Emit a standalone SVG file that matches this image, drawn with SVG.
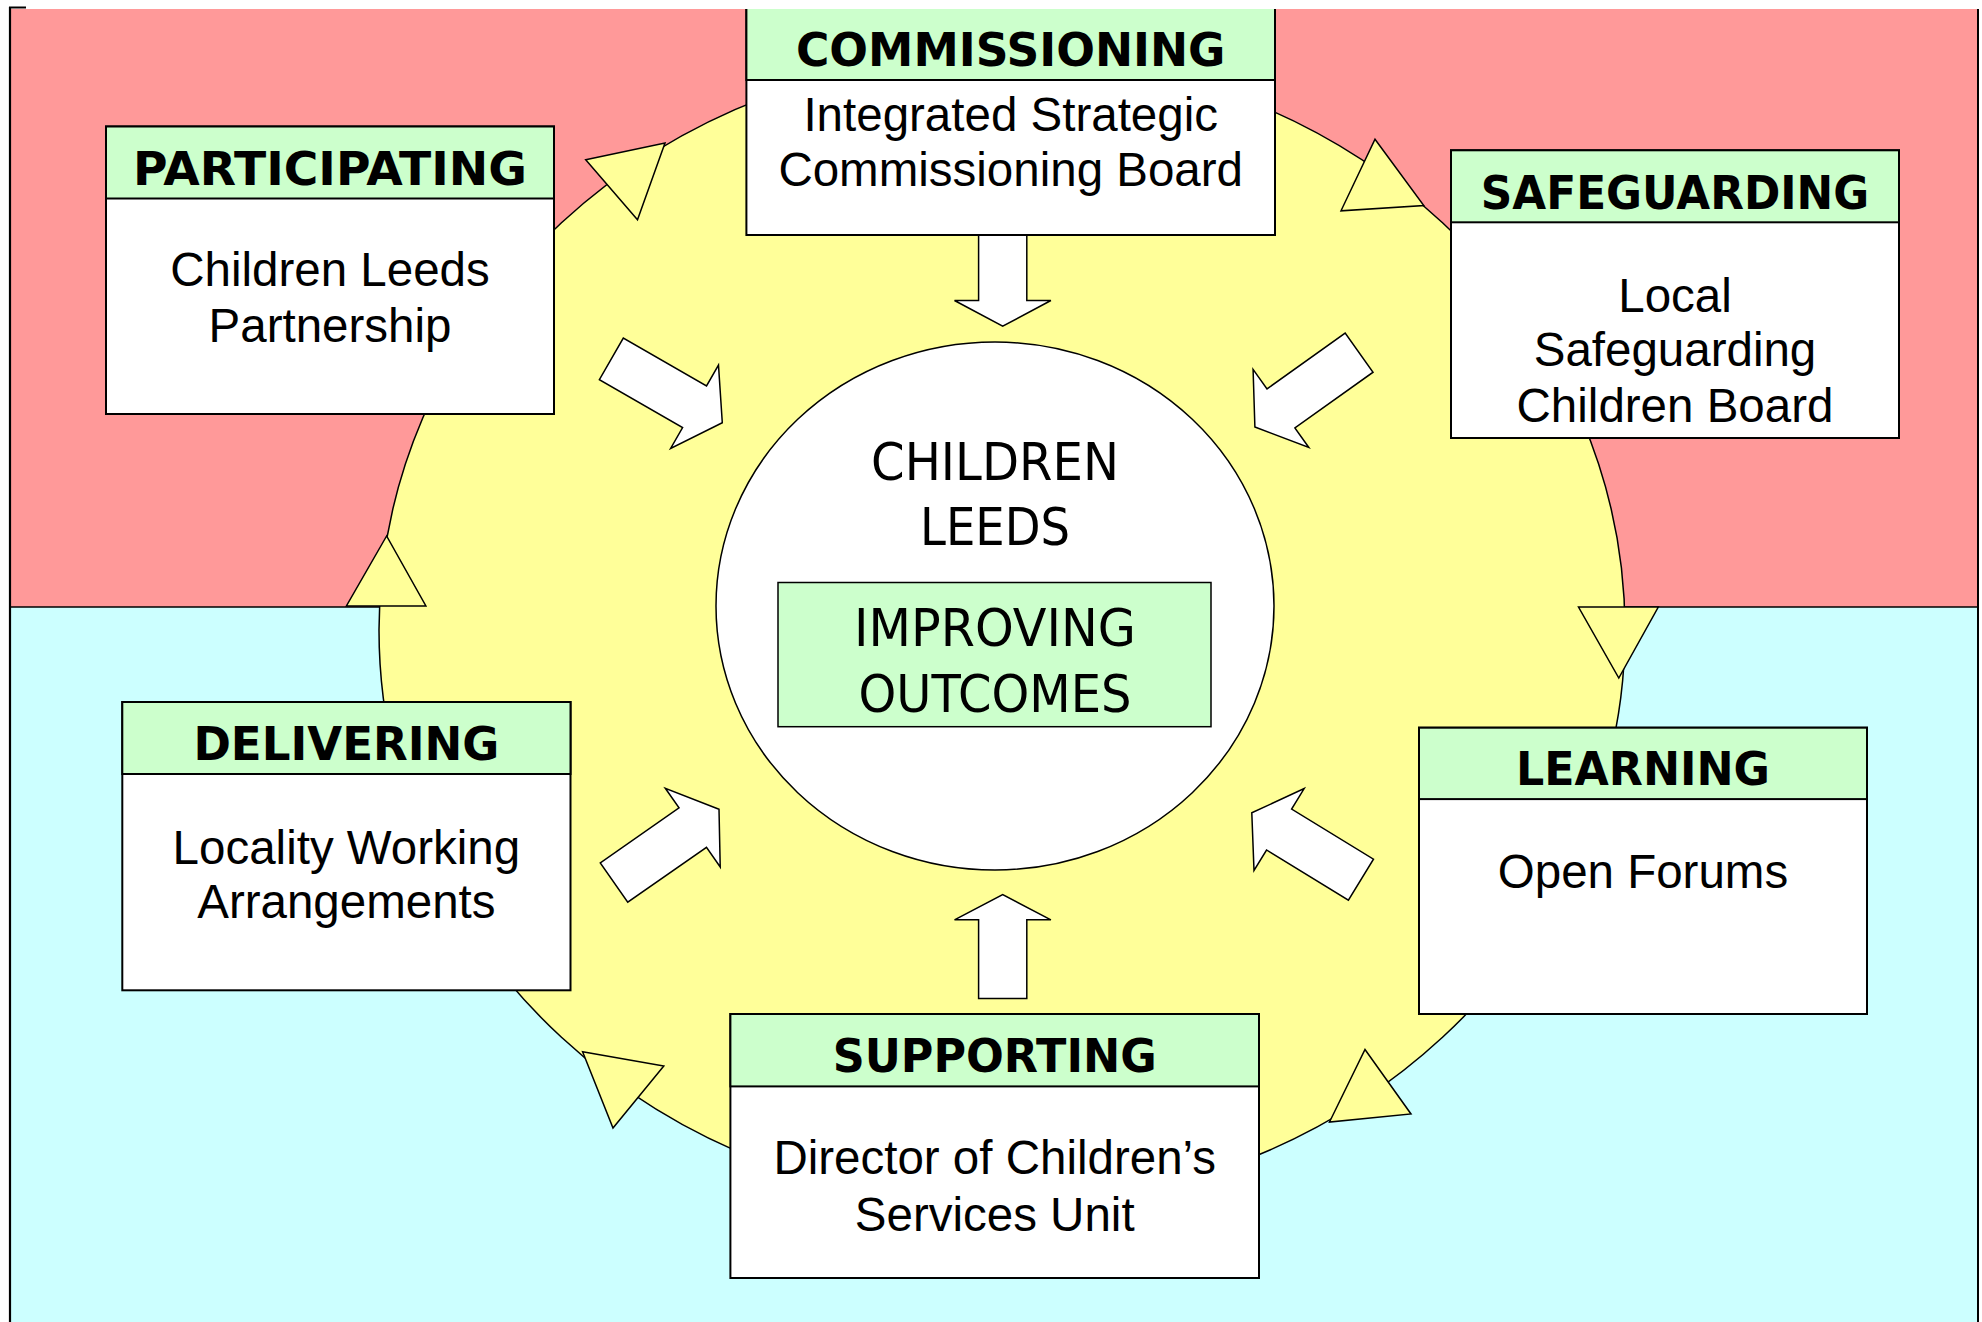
<svg xmlns="http://www.w3.org/2000/svg" width="1982" height="1322" viewBox="0 0 1982 1322">
<style>
.hdr{fill:#CCFFCC;stroke:#000;stroke-width:2}
.body{fill:#FFFFFF;stroke:#000;stroke-width:2}
.ht{font-family:"DejaVu Sans",Verdana,sans-serif;font-weight:bold;font-size:46px;text-anchor:middle;fill:#000}
.bt{font-family:"Liberation Sans",Arial,sans-serif;font-size:47.5px;text-anchor:middle;fill:#000}
.ct{font-family:"DejaVu Sans",Tahoma,sans-serif;font-size:51px;text-anchor:middle;fill:#000}
.tri{fill:#FFFF99;stroke:#000;stroke-width:1.5;stroke-linejoin:miter}
.arr{fill:#FFFFFF;stroke:#000;stroke-width:1.5;stroke-linejoin:miter}
</style>
<defs>
<clipPath id="frame"><rect x="0" y="9" width="1982" height="1313"/></clipPath>
<path id="darrow" d="M0,0 L-32,-48 L-32,-24 L-128,-24 L-128,24 L-32,24 L-32,48 Z"/>
</defs>
<rect x="0" y="0" width="1982" height="1322" fill="#FFFFFF"/>
<g id="background" clip-path="url(#frame)">
<rect x="10" y="9" width="1968" height="598" fill="#FF9999"/>
<rect x="10" y="607" width="1968" height="720" fill="#CCFFFF"/>
<line x1="10" y1="607" x2="1978" y2="607" stroke="#000" stroke-width="1.5"/>
<ellipse id="cycle" cx="1002" cy="630" rx="623" ry="576" fill="#FFFF99" stroke="#000" stroke-width="1.5"/>
</g>
<g id="frame-lines">
<line x1="10" y1="7" x2="10" y2="1322" stroke="#000" stroke-width="2.2"/>
<line x1="9" y1="7.5" x2="26" y2="7.5" stroke="#000" stroke-width="2"/>
<line x1="1978" y1="9" x2="1978" y2="1322" stroke="#000" stroke-width="2"/>
</g>
<g id="connectors">
<polygon class="tri" points="585.7,159.7 665,143 637.5,219.8"/>
<polygon class="tri" points="1375,139.2 1423.8,205.6 1341,210.8"/>
<polygon class="tri" points="1578.5,607 1658.3,607 1618.8,678"/>
<polygon class="tri" points="1365,1049.5 1411,1114 1329.5,1122"/>
<polygon class="tri" points="582.6,1051.8 663.8,1066 613,1128"/>
<polygon class="tri" points="386.6,536 346.4,606 425.9,606"/>
<path class="arr" d="M978.6,222.2 H1026.8 V300.5 H1050.9 L1002.7,326.2 L954.5,300.5 H978.6 Z"/>
<path class="arr" d="M978.6,998.4 H1026.8 V919.8 H1050.9 L1002.7,894.7 L954.5,919.8 H978.6 Z"/>
<use href="#darrow" class="arr" transform="translate(722.3,422.7) rotate(29.9)"/>
<use href="#darrow" class="arr" transform="translate(1254.9,427) rotate(144.5)"/>
<use href="#darrow" class="arr" transform="translate(719,809.3) rotate(-34.9)"/>
<use href="#darrow" class="arr" transform="translate(1251.8,812.8) rotate(-148.5)"/>
</g>
<g id="commissioning" clip-path="url(#frame)">
<rect class="body" x="746.4" y="5" width="528.6" height="230"/>
<rect class="hdr" x="746.4" y="5" width="528.6" height="75"/>
<text class="ht" x="1010.7" y="65.6" textLength="429.5" lengthAdjust="spacingAndGlyphs">COMMISSIONING</text>
<text class="bt" x="1010.7" y="130.5">Integrated Strategic</text>
<text class="bt" x="1010.7" y="185.8">Commissioning Board</text>
</g>
<g id="participating">
<rect class="body" x="106" y="126.5" width="448" height="287.5"/>
<rect class="hdr" x="106" y="126.5" width="448" height="72"/>
<text class="ht" x="330" y="185" textLength="394" lengthAdjust="spacingAndGlyphs">PARTICIPATING</text>
<text class="bt" x="330" y="286">Children Leeds</text>
<text class="bt" x="330" y="341.6">Partnership</text>
</g>
<g id="safeguarding">
<rect class="body" x="1451" y="150.3" width="448" height="287.7"/>
<rect class="hdr" x="1451" y="150.3" width="448" height="72"/>
<text class="ht" x="1675" y="208.8" textLength="388.5" lengthAdjust="spacingAndGlyphs">SAFEGUARDING</text>
<text class="bt" x="1675" y="311.6">Local</text>
<text class="bt" x="1675" y="365.8">Safeguarding</text>
<text class="bt" x="1675" y="422.3">Children Board</text>
</g>
<g id="delivering">
<rect class="body" x="122.3" y="702" width="448.2" height="288.3"/>
<rect class="hdr" x="122.3" y="702" width="448.2" height="72"/>
<text class="ht" x="346.4" y="759.8" textLength="306" lengthAdjust="spacingAndGlyphs">DELIVERING</text>
<text class="bt" x="346.4" y="864">Locality Working</text>
<text class="bt" x="346.4" y="917.9">Arrangements</text>
</g>
<g id="learning">
<rect class="body" x="1419" y="727.7" width="448" height="286.3"/>
<rect class="hdr" x="1419" y="727.7" width="448" height="71.4"/>
<text class="ht" x="1643" y="784.9" textLength="254" lengthAdjust="spacingAndGlyphs">LEARNING</text>
<text class="bt" x="1643" y="887.6">Open Forums</text>
</g>
<g id="supporting">
<rect class="body" x="730.4" y="1014" width="528.6" height="264"/>
<rect class="hdr" x="730.4" y="1014" width="528.6" height="72.4"/>
<text class="ht" x="994.7" y="1072.2" textLength="324" lengthAdjust="spacingAndGlyphs">SUPPORTING</text>
<text class="bt" x="994.7" y="1174">Director of Children’s</text>
<text class="bt" x="994.7" y="1230.7">Services Unit</text>
</g>
<g id="children-leeds">
<ellipse cx="995" cy="606" rx="279" ry="264" fill="#FFFFFF" stroke="#000" stroke-width="1.5"/>
<text class="ct" x="995" y="480.4" textLength="248" lengthAdjust="spacingAndGlyphs">CHILDREN</text>
<text class="ct" x="995" y="544.9" textLength="150" lengthAdjust="spacingAndGlyphs">LEEDS</text>
</g>
<g id="improving-outcomes">
<rect x="778" y="582.5" width="433" height="144.2" fill="#CCFFCC" stroke="#000" stroke-width="1.5"/>
<text class="ct" x="995" y="646.3" textLength="282" lengthAdjust="spacingAndGlyphs">IMPROVING</text>
<text class="ct" x="995" y="711.6" textLength="273" lengthAdjust="spacingAndGlyphs">OUTCOMES</text>
</g>
</svg>
